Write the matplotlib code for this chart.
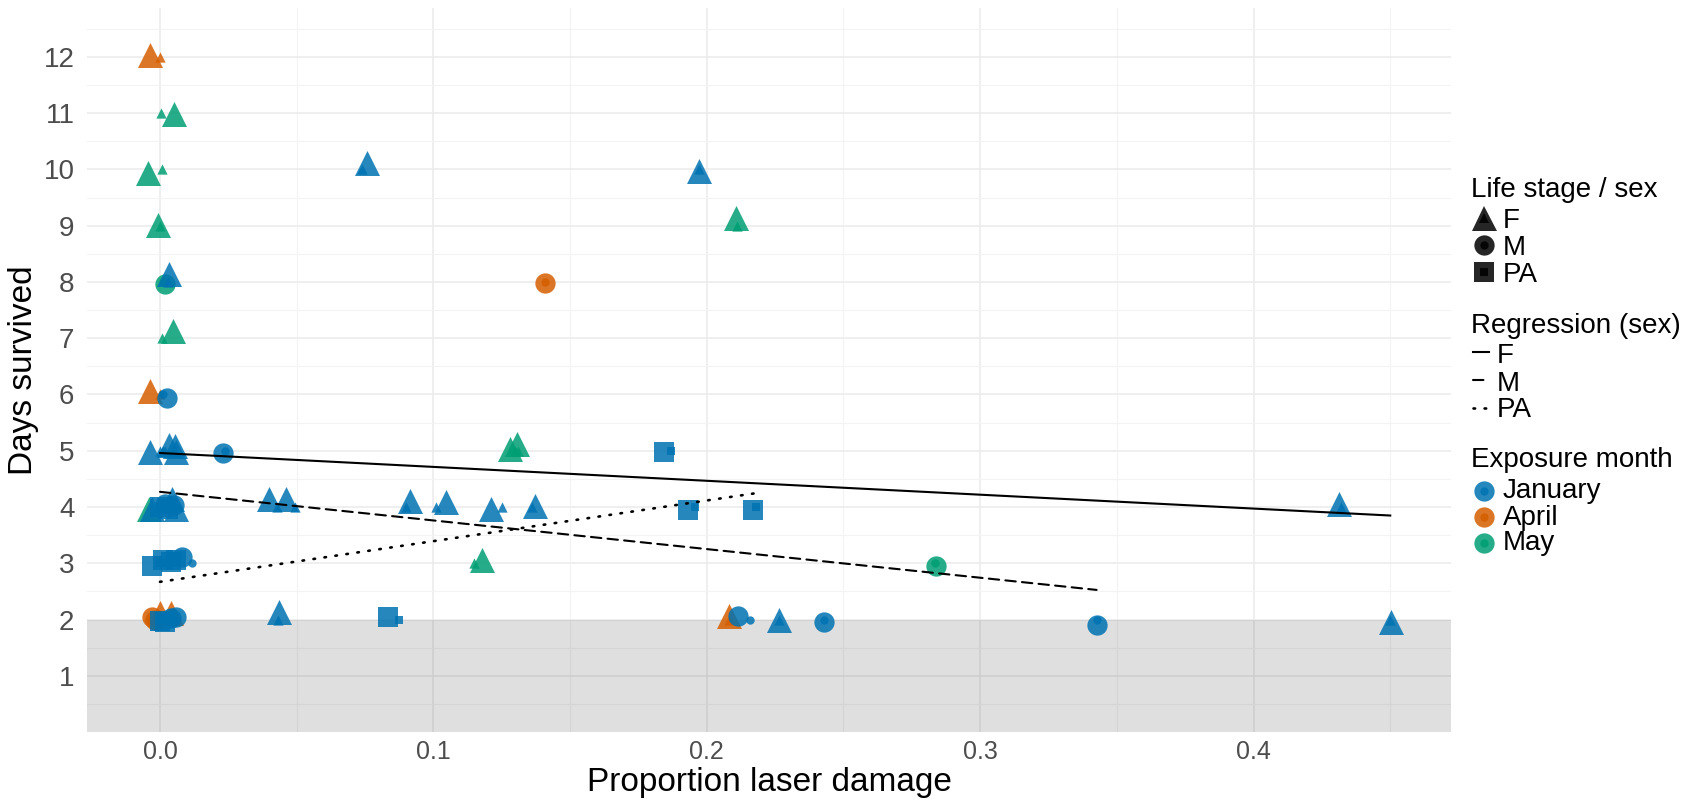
import numpy as np
import matplotlib.pyplot as plt
from matplotlib.lines import Line2D

plt.rcParams['font.family'] = ['Liberation Sans', 'DejaVu Sans']

# one row per beetle: life stage, exposure month, measured damage / days,
# and the jittered position of the big marker
stage = ['F', 'F', 'F', 'F', 'F', 'F', 'F', 'F', 'M', 'M', 'F', 'F', 'M',
         'F', 'F', 'F', 'F', 'M', 'F', 'F', 'PA',
         'F', 'F', 'PA', 'M', 'F', 'M', 'F', 'PA', 'F', 'F', 'F', 'F', 'F', 'F', 'PA', 'PA', 'F',
         'PA', 'PA', 'PA', 'PA', 'M', 'F', 'M',
         'F', 'F', 'M', 'M', 'M', 'PA', 'M', 'M', 'PA', 'F', 'PA', 'F', 'M', 'F', 'M', 'M', 'F']
month = ['April', 'May', 'May', 'January', 'January', 'May', 'May', 'January', 'May', 'April', 'May', 'April', 'January',
         'January', 'January', 'January', 'January', 'January', 'May', 'May', 'January',
         'May', 'January', 'January', 'January', 'January', 'January', 'January', 'January', 'January', 'January',
         'January', 'January', 'January', 'January', 'January', 'January', 'January',
         'January', 'January', 'January', 'January', 'January', 'May', 'May',
         'April', 'April', 'April', 'April', 'May', 'January', 'January', 'January', 'January', 'January',
         'January', 'April', 'January', 'January', 'January', 'January', 'January']
damage = [0.0, 0.0005, 0.0006, 0.0738, 0.197, 0.0, 0.211, 0.003, 0.001, 0.141, 0.0006, 0.0, 0.001,
          0.0, 0.001, 0.002, 0.001, 0.0238, 0.130, 0.131, 0.187,
          0.0, 0.0, 0.0, 0.001, 0.002, 0.003, 0.003, 0.002, 0.0427, 0.0495, 0.090, 0.101, 0.125, 0.136,
          0.1957, 0.218, 0.432,
          0.0, 0.002, 0.004, 0.005, 0.0116, 0.115, 0.2833,
          0.0, 0.004, 0.0, 0.0, 0.0, 0.0, 0.003, 0.005, 0.002, 0.043, 0.0874, 0.208, 0.2157, 0.2264,
          0.2427, 0.3426, 0.450]
days = [12, 11, 10, 10, 10, 9, 9, 8, 8, 8, 7, 6, 6,
        5, 5, 5, 5, 5, 5, 5, 5,
        4, 4, 4, 4, 4, 4, 4, 4, 4, 4, 4, 4, 4, 4, 4, 4, 4,
        3, 3, 3, 3, 3, 3, 3,
        2, 2, 2, 2, 2, 2, 2, 2, 2, 2, 2, 2, 2, 2, 2, 2, 2]
damage_jit = [-0.0037, 0.0052, -0.0043, 0.0757, 0.197, -0.0006, 0.2108, 0.0034, 0.0018, 0.1407, 0.0046,
              -0.0037, 0.0024,
              -0.0035, 0.0033, 0.0055, 0.006, 0.023, 0.128, 0.1307, 0.1845,
              -0.004, -0.003, 0.0, 0.002, 0.0045, 0.005, 0.006, 0.003, 0.0397, 0.0462, 0.0916, 0.1047,
              0.121, 0.137, 0.193, 0.2169, 0.4314,
              -0.003, 0.001, 0.004, 0.006, 0.008, 0.1178, 0.2839,
              0.0, 0.004, -0.003, -0.002, -0.001, 0.0, 0.004, 0.006, 0.002, 0.0434, 0.0833, 0.208,
              0.2114, 0.2264, 0.243, 0.3426, 0.4502]
days_jit = [12.04, 10.98, 9.94, 10.12, 9.97, 9.02, 9.13, 8.14, 7.96, 7.98, 7.13, 6.07, 5.94,
            4.97, 5.10, 5.09, 4.98, 4.96, 5.03, 5.12, 4.97,
            3.96, 3.97, 4.0, 4.05, 4.14, 4.04, 3.96, 3.96, 4.14, 4.14, 4.11, 4.09, 3.96, 4.02, 3.95, 3.95, 4.05,
            2.96, 3.05, 3.02, 3.06, 3.12, 3.05, 2.96,
            2.12, 2.12, 2.05, 1.99, 2.0, 1.98, 2.03, 2.05, 1.96, 2.14, 2.04, 2.06, 2.06, 2.0, 1.95, 1.91, 1.95]

stages = ['F', 'M', 'PA']
months = ['January', 'April', 'May']

# fitted regressions (days ~ damage) per sex
reg_intercept = [4.96, 4.27, 2.67]
reg_slope = [-2.47, -5.09, 7.23]

month_colors = {'January': '#0072B2', 'April': '#D55E00', 'May': '#009E73'}
stage_markers = {'F': '^', 'M': 'o', 'PA': 's'}
big_size = {'F': 18.0, 'M': 14.6, 'PA': 14.0}
small_size = {'F': 7.4, 'M': 6.0, 'PA': 5.4}
reg_styles = {'F': '-', 'M': (0, (5, 3)), 'PA': (0, (0.6, 3.6))}
reg_widths = {'F': 1.5, 'M': 1.5, 'PA': 1.9}

stage = np.array(stage)
month = np.array(month)
damage = np.array(damage)
days = np.array(days)
damage_jit = np.array(damage_jit)
days_jit = np.array(days_jit)

fig = plt.figure(figsize=(16.86, 8.01), dpi=100)
ax = fig.add_axes([0.0516, 0.0861, 0.8093, 0.9039])

ax.axhspan(-1, 2, color='black', alpha=0.125, lw=0, zorder=1)

# January drawn last so it sits on top, as in the original
for mo in ['May', 'April', 'January']:
    for st in stages:
        sel = (stage == st) & (month == mo)
        if not sel.any():
            continue
        ax.scatter(damage_jit[sel], days_jit[sel], marker=stage_markers[st], s=big_size[st] ** 2,
                   color=month_colors[mo], alpha=0.85, linewidths=0, zorder=3)
        ax.scatter(damage[sel], days[sel], marker=stage_markers[st], s=small_size[st] ** 2,
                   color=month_colors[mo], alpha=0.85, linewidths=0, zorder=3)

for i, st in enumerate(stages):
    sel = stage == st
    xs = np.array([damage[sel].min(), damage[sel].max()])
    ax.plot(xs, reg_intercept[i] + reg_slope[i] * xs, color='black', lw=reg_widths[st],
            ls=reg_styles[st], dash_capstyle='round', zorder=4)

ax.set_xlim(-0.0267, 0.4724)
ax.set_ylim(0.0, 12.87)
ax.set_xticks([0.0, 0.1, 0.2, 0.3, 0.4])
ax.set_xticklabels(['0.0', '0.1', '0.2', '0.3', '0.4'])
ax.set_xticks(np.arange(0.05, 0.46, 0.1), minor=True)
ax.set_yticks(range(1, 13))
ax.set_yticks(np.arange(0.5, 12.6, 1.0), minor=True)
ax.grid(True, which='major', color='#ebebeb', lw=1.1, zorder=0)
ax.grid(True, which='minor', color='#f3f3f3', lw=0.8, zorder=0)
ax.set_axisbelow(True)
for sp in ax.spines.values():
    sp.set_visible(False)
ax.tick_params(which='both', length=0)
ax.tick_params(axis='x', labelsize=18, labelcolor='#4d4d4d', pad=6)
ax.tick_params(axis='y', labelsize=20, labelcolor='#4d4d4d', pad=9)
ax.set_xlabel('Proportion laser damage', fontsize=24, labelpad=2)
ax.set_ylabel('Days survived', fontsize=24, labelpad=3)


def fy(y):
    return 1 - y / 801


def fx(x):
    return x / 1686


lab_kw = dict(fontsize=20, va='baseline', ha='left', color='black')

# legend: life stage / sex
fig.text(fx(1471), fy(196.7), 'Life stage / sex', **lab_kw)
for st, yc, yb in zip(stages, [218, 245, 272], [228.3, 255, 281.7]):
    for ms in (big_size[st], small_size[st]):
        fig.add_artist(Line2D([fx(1484)], [fy(yc)], transform=fig.transFigure, marker=stage_markers[st],
                              markersize=ms, color='black', alpha=0.85, markeredgewidth=0, ls='none'))
    fig.text(fx(1503), fy(yb), st, **lab_kw)

# legend: regression lines
fig.text(fx(1471), fy(332.7), 'Regression (sex)', **lab_kw)
for st, yc, yb in zip(stages, [352, 380, 408], [363.3, 390.7, 416.7]):
    fig.add_artist(Line2D([fx(1473), fx(1489)], [fy(yc), fy(yc)], transform=fig.transFigure,
                          color='black', lw=reg_widths[st], ls=reg_styles[st], dash_capstyle='round'))
    fig.text(fx(1497), fy(yb), st, **lab_kw)

# legend: exposure month
fig.text(fx(1471), fy(466.7), 'Exposure month', **lab_kw)
for mo, yc, yb in zip(months, [491, 517.3, 542.7], [498.3, 525, 550]):
    for ms in (14.6, 6.0):
        fig.add_artist(Line2D([fx(1484)], [fy(yc)], transform=fig.transFigure, marker='o',
                              markersize=ms, color=month_colors[mo], alpha=0.85,
                              markeredgewidth=0, ls='none'))
    fig.text(fx(1503), fy(yb), mo, **lab_kw)

fig.savefig('out.png', dpi=100)
